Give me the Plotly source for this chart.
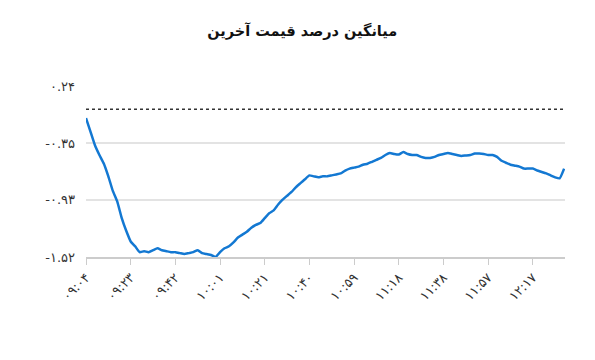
import plotly.graph_objects as go

title_text = "میانگین درصد قیمت آخرین"

values = [
    -0.09, -0.23, -0.37, -0.47, -0.56, -0.69, -0.84, -0.95, -1.12, -1.25,
    -1.36, -1.41, -1.47, -1.46, -1.47, -1.45, -1.43, -1.45, -1.46, -1.47,
    -1.47, -1.48, -1.49, -1.48, -1.47, -1.45, -1.48, -1.49, -1.50, -1.52,
    -1.47, -1.43, -1.41, -1.37, -1.32, -1.29, -1.26, -1.22, -1.19, -1.17,
    -1.12, -1.07, -1.04, -0.98, -0.93, -0.89, -0.85, -0.80, -0.76, -0.72,
    -0.68, -0.69, -0.70, -0.69, -0.69, -0.68, -0.67, -0.66, -0.63, -0.61,
    -0.60, -0.59, -0.57, -0.56, -0.54, -0.52, -0.50, -0.47, -0.45, -0.46,
    -0.465, -0.44, -0.46, -0.47, -0.47, -0.49, -0.50, -0.50, -0.49, -0.47,
    -0.46, -0.45, -0.46, -0.47, -0.48, -0.475, -0.47, -0.455, -0.455, -0.46,
    -0.47, -0.47, -0.49, -0.53, -0.55, -0.57, -0.58, -0.59, -0.61, -0.61,
    -0.61, -0.63, -0.645, -0.66, -0.68, -0.70, -0.71, -0.61,
]
points = list(range(len(values)))

x_tick_positions = [0, 10, 20, 30, 40, 50, 60, 70, 80, 90, 100]
x_tick_labels = ["۰۹:۰۴", "۰۹:۲۳", "۰۹:۴۲", "۱۰:۰۱", "۱۰:۲۱", "۱۰:۴۰",
                 "۱۰:۵۹", "۱۱:۱۸", "۱۱:۳۸", "۱۱:۵۷", "۱۲:۱۷"]

y_tick_values = [0.24, -0.35, -0.93, -1.52]
y_tick_labels = ["۰.۲۴", "-۰.۳۵", "-۰.۹۳", "-۱.۵۲"]

reference_level = 0

fig = go.Figure()
fig.add_trace(go.Scatter(
    x=points, y=values, mode="lines",
    line=dict(color="#1378d2", width=2.5, shape="spline", smoothing=0.4),
    hoverinfo="skip", showlegend=False,
))

fig.add_shape(type="line", xref="paper", yref="y", x0=0, x1=1,
              y0=reference_level, y1=reference_level,
              line=dict(color="#333333", width=1.5, dash="3px,3px"))

fig.update_layout(
    width=595, height=360,
    margin=dict(l=86, r=30, t=86, b=103),
    paper_bgcolor="white", plot_bgcolor="white",
    font=dict(family="DejaVu Sans", color="#333333"),
    title=dict(text="<b>" + title_text + "</b>", x=0.508, xanchor="center",
               y=0.915, yanchor="middle",
               font=dict(size=14.5, color="#111111", family="DejaVu Sans")),
)

fig.update_xaxes(
    range=[0, 107.2], tickmode="array", tickvals=x_tick_positions,
    ticktext=x_tick_labels, tickangle=-45, showgrid=False,
    showline=True, linecolor="#cccccc", linewidth=1.5,
    ticks="outside", ticklen=6, tickcolor="#cccccc",
    tickfont=dict(size=13, color="#333333"), zeroline=False,
)
fig.update_yaxes(
    range=[-1.52, 0.24], tickmode="array", tickvals=y_tick_values,
    ticktext=y_tick_labels, showgrid=True, gridcolor="#e3e3e3", gridwidth=1.5,
    zeroline=False, showline=False, ticks="",
    tickfont=dict(size=13, color="#333333"), ticklabelstandoff=10,
)

fig.write_html("out.html")
